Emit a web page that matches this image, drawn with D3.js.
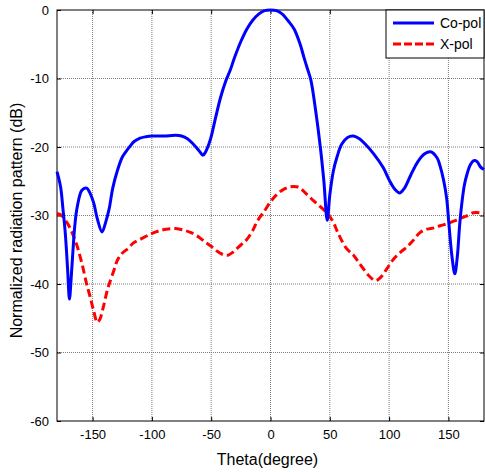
<!DOCTYPE html>
<html><head><meta charset="utf-8">
<script src="https://cdn.jsdelivr.net/npm/d3@7"></script>
<style>body{margin:0;background:#fff}svg{display:block}text{font-family:"Liberation Sans",Arial,sans-serif}</style>
</head><body>
<script>
const xTicks = [-150,-100,-50,0,50,100,150];
const yTicks = [0,-10,-20,-30,-40,-50,-60];
const seriesNames = ["Co-pol","X-pol"];
const coTheta = [-180,-177,-175,-173,-171,-169.5,-168,-166.5,-165,-163,-159,-155,-152,-149,-146,-142,-139,-136,-133,-129,-125,-122,-118,-115,-110,-105,-100,-90,-80,-75,-70,-65,-60,-57,-55,-52,-50,-46,-42,-38,-34,-30,-25,-20,-15,-10,-5,0,5,10,15,20,25,28,31,34,38,42,45,47.8,50,53,56,60,65,70,75,80,87,95,100,105,109,113,118,124,130,135,140.5,143,146,148.5,150.4,153,155.4,157.5,159.6,161.6,163.5,165.8,168.5,171.4,174,177,180];
const coVal = [-23.6,-25.8,-29,-32.6,-38,-42.2,-39,-35,-31.5,-28.8,-26.3,-26,-26.8,-28.2,-30.5,-32.4,-31,-29,-26,-23.4,-21.5,-20.7,-19.8,-19.2,-18.7,-18.5,-18.4,-18.4,-18.3,-18.4,-18.8,-19.6,-20.6,-21.2,-20.8,-19.6,-18.5,-15.5,-12.7,-10.5,-8.8,-6.8,-4.6,-2.8,-1.5,-0.6,-0.1,0,-0.1,-0.6,-1.6,-2.8,-5,-6.8,-8.5,-10.2,-14.6,-20,-25,-30.7,-27,-23.5,-21.5,-19.6,-18.6,-18.4,-18.8,-19.6,-21,-23,-24.8,-26.2,-26.7,-26,-24.2,-22.2,-21,-20.7,-21.6,-22.8,-24.9,-27.5,-31.2,-36,-38.5,-36,-31.1,-27.8,-25.5,-23.9,-22.6,-22,-22.1,-22.9,-23.3];
const xTheta = [-180,-176,-173,-170,-167,-163,-159,-155,-152,-149,-146,-144,-141,-138,-136,-132,-129,-125,-120,-115.5,-110,-101,-95,-88,-80,-72,-67,-60,-55,-50,-45,-40,-36,-32,-27,-23,-20,-15,-11,-5,0,5,10,17,22,25,30,36,42,48,53,56,59,64,70,73,78,83,88.5,93,98,104,110,115,120,126,132,138,143,149,155,160,165,171,177,180];
const xVal = [-29.7,-30,-30.7,-31.5,-32.6,-34.5,-37,-40,-41.9,-44,-45.6,-45.2,-43.4,-41.2,-40,-38,-36.5,-35.5,-34.8,-34,-33.5,-32.7,-32.3,-32,-31.9,-32.2,-32.5,-33.2,-33.9,-34.5,-35.2,-35.7,-35.8,-35.4,-34.6,-34,-33.5,-32.2,-30.8,-29.3,-28,-27,-26.3,-25.8,-25.8,-26,-26.8,-27.8,-28.7,-29.7,-31,-32.2,-33.3,-34.8,-35.8,-36.5,-37.7,-38.8,-39.5,-39,-37.8,-36.3,-35.3,-34.6,-33.7,-32.5,-32,-31.8,-31.5,-31.2,-30.8,-30.4,-30.1,-29.6,-29.6,-29.7];

const W=485,H=472;
const L=57,R=484,T=10,B=421;
const svg=d3.select("body").append("svg").attr("width",W).attr("height",H);
const x=d3.scaleLinear().domain([-180,180]).range([L,R]);
const y=d3.scaleLinear().domain([-60,0]).range([B,T]);

// grid
const g=svg.append("g");
g.selectAll(".gx").data(xTicks).join("line")
 .attr("x1",d=>x(d)).attr("x2",d=>x(d)).attr("y1",T).attr("y2",B)
 .attr("stroke","#7a7a7a").attr("stroke-width",1).attr("stroke-dasharray","1,1");
g.selectAll(".gy").data(yTicks.slice(1,-1)).join("line")
 .attr("x1",L).attr("x2",R).attr("y1",d=>y(d)).attr("y2",d=>y(d))
 .attr("stroke","#7a7a7a").attr("stroke-width",1).attr("stroke-dasharray","1,1");

// axes
const fmt=d=>String(d);
const xAxis=d3.axisBottom(x).tickValues(xTicks).tickSize(-4).tickPadding(9).tickFormat(fmt);
const yAxis=d3.axisLeft(y).tickValues(yTicks).tickSize(-4).tickPadding(8).tickFormat(fmt);
const ax=svg.append("g").attr("transform",`translate(0,${B})`).call(xAxis);
const ay=svg.append("g").attr("transform",`translate(${L},0)`).call(yAxis);
const axTop=svg.append("g").attr("transform",`translate(0,${T})`).call(d3.axisTop(x).tickValues(xTicks).tickSize(-4).tickFormat(""));
const ayR=svg.append("g").attr("transform",`translate(${R},0)`).call(d3.axisRight(y).tickValues(yTicks).tickSize(-4).tickFormat(""));
[ax,ay,axTop,ayR].forEach(a=>{a.select(".domain").remove();a.selectAll("line").attr("stroke","#000");a.selectAll("text").attr("font-size",13).attr("fill","#000").style("font-family","'Liberation Sans',Arial,sans-serif");});
ax.selectAll("text").attr("dy","0.71em");
svg.append("rect").attr("x",L).attr("y",T).attr("width",R-L).attr("height",B-T).attr("fill","none").attr("stroke","#000").attr("stroke-width",1);

// lines
const line=d3.line().x(d=>x(d[0])).y(d=>y(d[1])).curve(d3.curveCatmullRom.alpha(0.5));
const coData=coTheta.map((t,i)=>[t,coVal[i]]);
const xData=xTheta.map((t,i)=>[t,xVal[i]]);
svg.append("path").datum(xData).attr("d",line).attr("fill","none").attr("stroke","#ff0000").attr("stroke-width",3).attr("stroke-dasharray","8,4");
svg.append("path").datum(coData).attr("d",line).attr("fill","none").attr("stroke","#0000ff").attr("stroke-width",3);

// labels
svg.append("text").attr("x",(L+R)/2-3).attr("y",465).attr("text-anchor","middle").attr("font-size",16).text("Theta(degree)");
svg.append("text").attr("transform",`translate(22,${(T+B)/2+5}) rotate(-90)`).attr("text-anchor","middle").attr("font-size",16).text("Normalized radiation pattern (dB)");

// legend
const lg=svg.append("g");
lg.append("rect").attr("x",386).attr("y",10).attr("width",98).attr("height",48).attr("fill","#fff").attr("stroke","#000").attr("stroke-width",1);
const items=[{n:seriesNames[0],c:"#0000ff",d:null},{n:seriesNames[1],c:"#ff0000",d:"8,3"}];
items.forEach((it,i)=>{
  const yy=23+i*21;
  lg.append("line").attr("x1",393).attr("x2",434).attr("y1",yy).attr("y2",yy).attr("stroke",it.c).attr("stroke-width",3).attr("stroke-dasharray",it.d);
  lg.append("text").attr("x",440).attr("y",yy+5).attr("font-size",14).text(it.n);
});
</script>
</body></html>
